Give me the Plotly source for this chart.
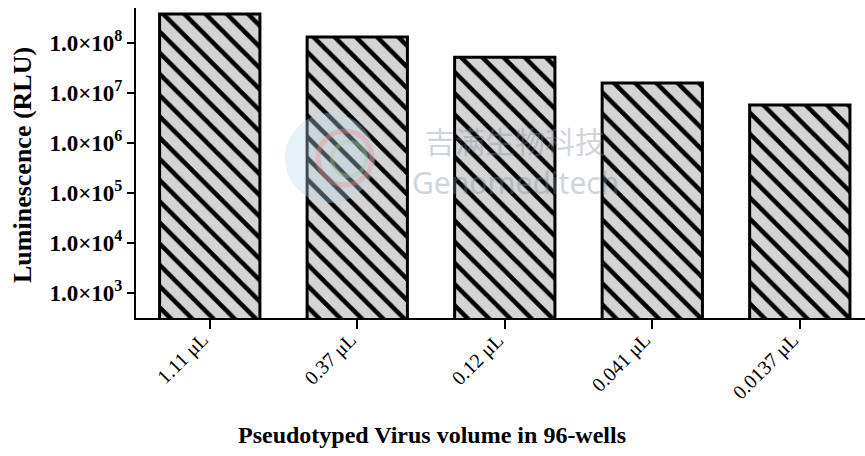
import plotly.graph_objects as go

categories = ["1.11 μL", "0.37 μL", "0.12 μL", "0.041 μL", "0.0137 μL"]
luminescence = [3.8e8, 1.32e8, 5.2e7, 1.58e7, 5.75e6]
ytick_vals = [1e3, 1e4, 1e5, 1e6, 1e7, 1e8]
ytick_text = ["1.0×10<sup>3</sup>", "1.0×10<sup>4</sup>", "1.0×10<sup>5</sup>",
              "1.0×10<sup>6</sup>", "1.0×10<sup>7</sup>", "1.0×10<sup>8</sup>"]

serif = "Liberation Serif"
xpos = list(range(len(categories)))

# pixel -> paper helpers (plot area: x 136..865, y 8..318)
def px(x):
    return (x - 136) / 729

def py(y):
    return (318 - y) / 310

fig = go.Figure()
fig.add_trace(go.Bar(
    x=xpos,
    y=luminescence,
    width=0.68,
    marker=dict(
        color="#d4d4d4",
        line=dict(color="black", width=3),
        pattern=dict(shape="\\", fgcolor="black", bgcolor="#d4d4d4",
                     fillmode="replace", size=15, solidity=0.3),
    ),
    showlegend=False,
    hoverinfo="skip",
))

label_annotations = [
    dict(text=c, x=i, xref="x", y=-(326 - 318) / 310, yref="paper",
         xanchor="right", yanchor="top", xshift=6, textangle=-45, showarrow=False,
         font=dict(family=serif, size=20, color="black"))
    for i, c in zip(xpos, categories)
]

# faint watermark logo
shapes = [
    dict(type="circle", xref="paper", yref="paper",
         x0=px(285), x1=px(375), y0=py(203), y1=py(113),
         fillcolor="#b9d8ec", line=dict(width=0), opacity=0.35, layer="above"),
    dict(type="circle", xref="paper", yref="paper",
         x0=px(318), x1=px(372), y0=py(185), y1=py(131),
         fillcolor="rgba(0,0,0,0)", line=dict(color="#f08a8a", width=5), opacity=0.35, layer="above"),
    dict(type="circle", xref="paper", yref="paper",
         x0=px(332), x1=px(366), y0=py(176), y1=py(142),
         fillcolor="rgba(0,0,0,0)", line=dict(color="#9fd08f", width=4), opacity=0.35, layer="above"),
]

fig.update_layout(
    width=865, height=456,
    margin=dict(l=136, r=0, t=8, b=138),
    paper_bgcolor="white", plot_bgcolor="white",
    shapes=shapes,
    xaxis=dict(
        range=[-0.5, 4.442],
        tickvals=xpos,
        ticktext=[""] * len(xpos),
        showline=True, linecolor="black", linewidth=2,
        ticks="outside", ticklen=9, tickwidth=2, tickcolor="black",
        showgrid=False, zeroline=False,
    ),
    yaxis=dict(
        type="log",
        range=[2.5, 8.7],
        tickvals=ytick_vals,
        ticktext=ytick_text,
        tickfont=dict(family=serif, size=23, color="black", weight="bold"),
        showline=True, linecolor="black", linewidth=2,
        ticks="outside", ticklen=7, tickwidth=2, tickcolor="black",
        showgrid=False, zeroline=False,
    ),
    annotations=label_annotations + [
        dict(text="Pseudotyped Virus volume in 96-wells", xref="paper", yref="paper",
             x=px(432), y=-(435 - 318) / 310, xanchor="center", yanchor="middle",
             showarrow=False, font=dict(family=serif, size=24, color="black", weight="bold")),
        dict(text="Luminescence (RLU)", xref="paper", yref="paper", textangle=-90,
             x=px(22), y=py(165), xanchor="center", yanchor="middle",
             showarrow=False, font=dict(family=serif, size=26, color="black", weight="bold")),
        dict(text="吉满生物科技", xref="paper", yref="paper",
             x=px(515), y=py(140), xanchor="center", yanchor="middle",
             showarrow=False, opacity=0.35,
             font=dict(family="Noto Sans CJK SC", size=30, color="#7a8a99")),
        dict(text="Genomeditech", xref="paper", yref="paper",
             x=px(515), y=py(183), xanchor="center", yanchor="middle",
             showarrow=False, opacity=0.35,
             font=dict(family="Noto Sans", size=30, color="#7a8a99")),
    ],
)

fig.write_html("out.html", config={"displayModeBar": False},
               post_script="document.body.style.margin='0';document.body.style.overflow='hidden';")
